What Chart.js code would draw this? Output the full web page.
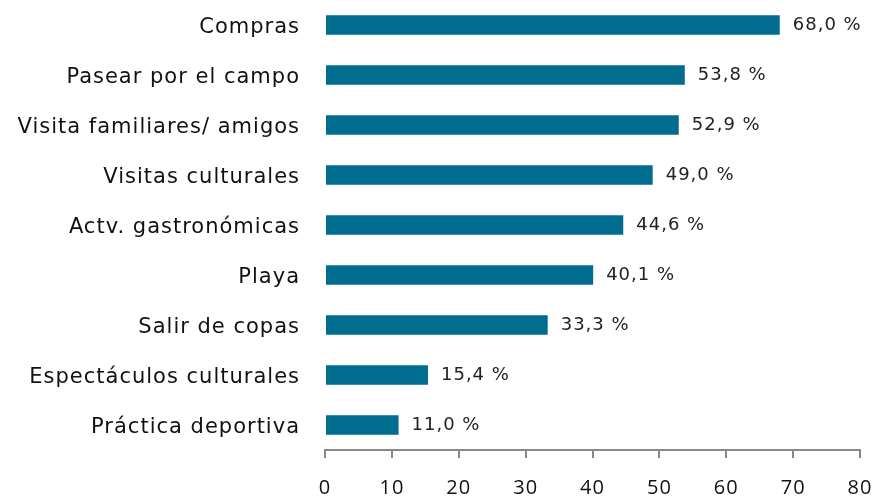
<!DOCTYPE html>
<html>
<head>
<meta charset="utf-8">
<script src="https://cdn.jsdelivr.net/npm/chart.js@4.4.1/dist/chart.umd.min.js"></script>
<style>
  html, body { margin: 0; padding: 0; background: #fff; }
  #wrap { width: 882px; height: 497px; }
</style>
</head>
<body>
<div id="wrap"><canvas id="chart"></canvas></div>
<script>
  var categories = ['Compras', 'Pasear por el campo', 'Visita familiares/ amigos', 'Visitas culturales',
    'Actv. gastronómicas', 'Playa', 'Salir de copas', 'Espectáculos culturales', 'Práctica deportiva'];
  var values = [68.0, 53.8, 52.9, 49.0, 44.6, 40.1, 33.3, 15.4, 11.0];
  var xTicks = [0, 10, 20, 30, 40, 50, 60, 70, 80];

  var barColor = '#006d8f';

  // wider letter spacing, like the original's font
  var spacing = {
    id: 'spacing',
    beforeDraw: function(chart) {
      chart.ctx.letterSpacing = '1px';
    }
  };

  // value labels at the end of each bar
  var valueLabels = {
    id: 'valueLabels',
    afterDatasetsDraw: function(chart) {
      var ctx = chart.ctx;
      var meta = chart.getDatasetMeta(0);
      ctx.save();
      ctx.letterSpacing = '1px';
      ctx.font = '18px "DejaVu Sans"';
      ctx.fillStyle = '#222';
      ctx.textBaseline = 'middle';
      meta.data.forEach(function(bar, i) {
        var txt = values[i].toFixed(1).replace('.', ',') + ' %';
        ctx.fillText(txt, bar.x + 13, bar.y);
      });
      ctx.restore();
    }
  };

  var ctx = document.getElementById('chart').getContext('2d');
  var myChart = new Chart(ctx, {
    type: 'bar',
    data: {
      labels: categories,
      datasets: [{
        data: values,
        backgroundColor: barColor,
        categoryPercentage: 0.78,
        barPercentage: 0.5
      }]
    },
    options: {
      indexAxis: 'y',
      responsive: true,
      maintainAspectRatio: false,
      animation: false,
      layout: { padding: { top: 0, right: 22, left: 0, bottom: 0 } },
      plugins: {
        legend: { display: false },
        tooltip: { enabled: false }
      },
      scales: {
        x: {
          min: 0,
          max: 80,
          afterBuildTicks: function(scale) {
            scale.ticks = xTicks.map(function(v) { return { value: v }; });
          },
          afterFit: function(scale) {
            scale.height = 47;
            scale.paddingLeft = 0;
            scale.paddingRight = 0;
          },
          grid: {
            drawOnChartArea: false,
            drawTicks: true,
            tickLength: 8,
            color: '#888',
            lineWidth: 2
          },
          border: { color: '#888', width: 2 },
          ticks: {
            color: '#111',
            padding: 18,
            font: { family: '"Open Sans"', size: 20 }
          }
        },
        y: {
          afterFit: function(scale) {
            scale.width = 325;
            scale.paddingTop = 0;
            scale.paddingBottom = 0;
          },
          grid: { display: false },
          border: { display: false },
          ticks: {
            color: '#111',
            padding: 17,
            labelOffset: 3,
            font: { family: '"DejaVu Sans"', size: 21 }
          }
        }
      }
    },
    plugins: [spacing, valueLabels]
  });
</script>
</body>
</html>
